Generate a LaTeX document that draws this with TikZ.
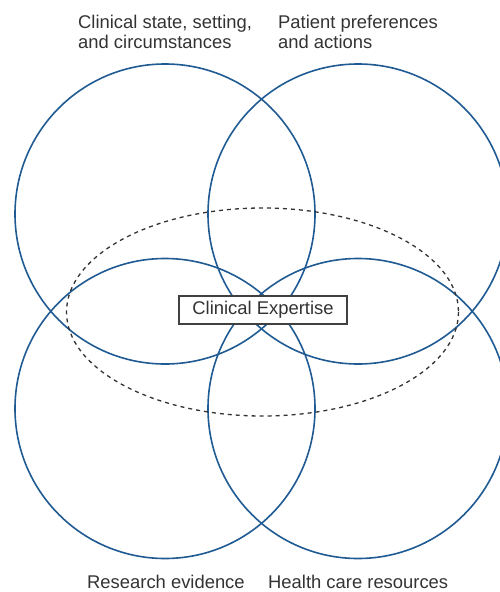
\documentclass[tikz,border=0pt]{standalone}
\usepackage{fontspec}
\setmainfont{Liberation Sans}
\definecolor{ringblue}{HTML}{1F5A92}
\definecolor{txtgray}{HTML}{333333}
\begin{document}
\begin{tikzpicture}[x=1pt,y=-1pt,
  ring/.style={draw=ringblue,line width=1.6pt},
  lbl/.style={text=txtgray,font=\fontsize{18.4}{20}\selectfont,inner sep=0pt,align=left},
  ebox/.style={draw=black!75,line width=1.1pt,fill=white,text=txtgray,font=\fontsize{18.4}{20}\selectfont,minimum width=168pt,minimum height=28pt,inner sep=0pt}]
\useasboundingbox (0,0) rectangle (499,592);
\coordinate (ctl) at (165,214);
\coordinate (ctr) at (358,214);
\coordinate (cbl) at (165,408.5);
\coordinate (cbr) at (358,408.5);
\draw[ring] (ctl) circle[radius=150];
\draw[ring] (ctr) circle[radius=150];
\draw[ring] (cbl) circle[radius=150];
\draw[ring] (cbr) circle[radius=150];
\draw[black!80,line width=1.3pt,dash pattern=on 4pt off 4pt] (262.5,312) ellipse[x radius=196,y radius=104];
\node[ebox] (ce) at (263,310) {Clinical Expertise};
\node[lbl,anchor=base west] (l1) at (78,28.3) {Clinical state, setting,};
\node[lbl,anchor=base west] (l1b) at (78,48.3) {and circumstances};
\node[lbl,anchor=base west] (l2) at (278,28.3) {Patient preferences};
\node[lbl,anchor=base west] (l2b) at (278,48.3) {and actions};
\node[lbl,anchor=base west] (l3) at (87,588) {Research evidence};
\node[lbl,anchor=base west] (l4) at (268,588) {Health care resources};
\end{tikzpicture}
\end{document}
